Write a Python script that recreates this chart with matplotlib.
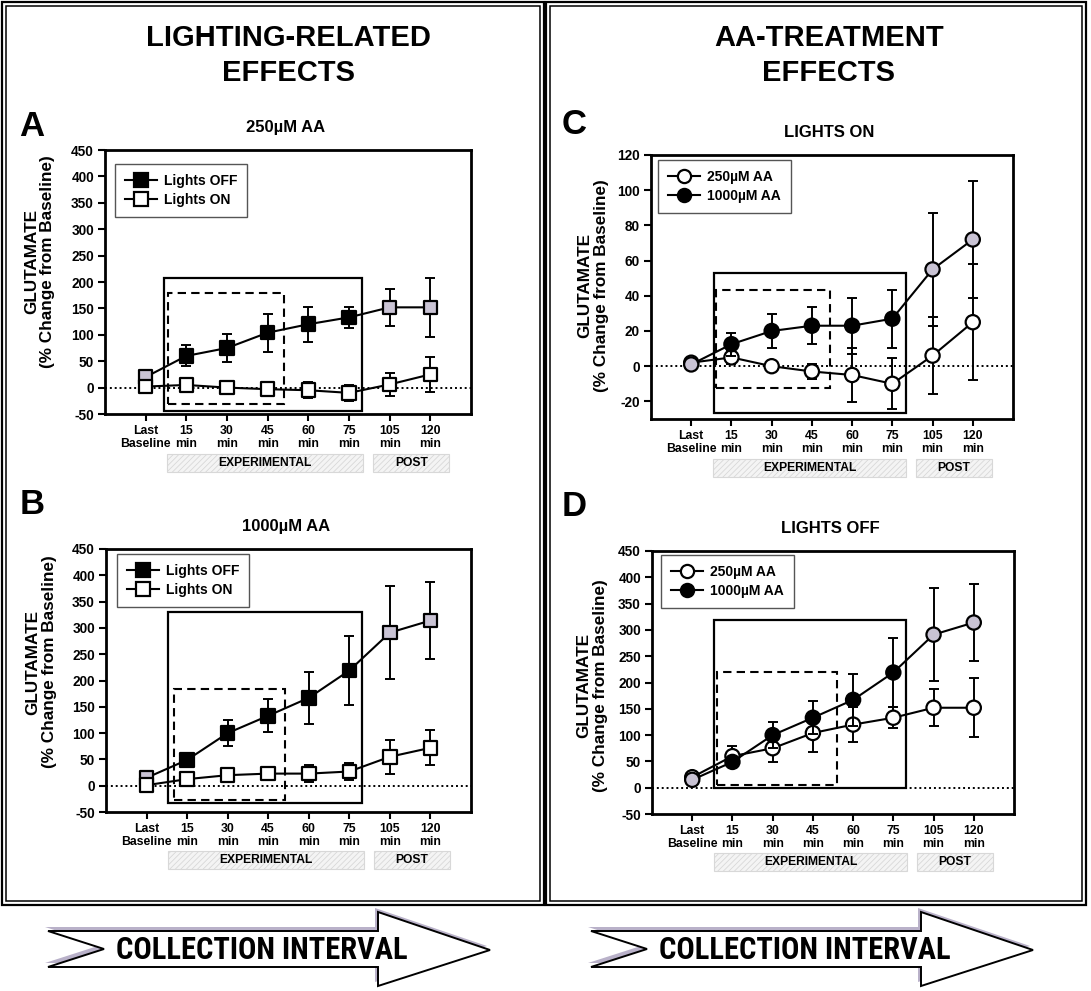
import matplotlib
matplotlib.use("Agg")
import matplotlib.pyplot as plt
from matplotlib.patches import Rectangle, Polygon
from matplotlib.lines import Line2D
from matplotlib import font_manager
import matplotlib.transforms as mtransforms

plt.rcParams['font.family'] = ['Liberation Sans', 'DejaVu Sans']
plt.rcParams['font.weight'] = 'bold'
plt.rcParams['hatch.color'] = '#c8c8c8'
plt.rcParams['hatch.linewidth'] = 0.6

# ---------------- data ----------------
x_labels = ['Last\nBaseline', '15\nmin', '30\nmin', '45\nmin', '60\nmin', '75\nmin', '105\nmin', '120\nmin']

# 250 uM AA, lights OFF
off_250 = [20, 60, 75, 104, 120, 133, 152, 152]
off_250_err = [3, 20, 27, 36, 33, 20, 35, 56]
# 250 uM AA, lights ON
on_250 = [2, 5, 0, -3, -5, -10, 6, 25]
on_250_err = [2, 4, 3, 4.5, 15.5, 14.5, 22, 33]
# 1000 uM AA, lights OFF
off_1000 = [15, 49, 100, 133, 167, 219, 291, 314]
off_1000_err = [3, 8, 25, 31, 49, 66, 88, 74]
# 1000 uM AA, lights ON
on_1000 = [1, 12.5, 20, 23, 23, 27, 55, 72]
on_1000_err = [1, 6.5, 9.5, 10.5, 15.8, 16.5, 32, 33]

gray_idx = [0, 6, 7]

titles = ['250\u00b5M AA', '1000\u00b5M AA', 'LIGHTS ON', 'LIGHTS OFF']
letters = ['A', 'B', 'C', 'D']
headlines = [('LIGHTING-RELATED', 'EFFECTS'), ('AA-TREATMENT', 'EFFECTS')]
band_labels = ['EXPERIMENTAL', 'POST']
arrow_text = 'COLLECTION INTERVAL'

GRAY = '#c9c3d4'

# ---------------- pick a condensed bold font if one exists ----------------
def find_condensed():
    cands = []
    for f in font_manager.fontManager.ttflist:
        nm = f.name.lower()
        path = f.fname.lower()
        cond = ('narrow' in nm or 'condensed' in nm or 'narrow' in path or 'condensed' in path
                or f.stretch in ('condensed', 'semi-condensed', 'extra-condensed', 'ultra-condensed'))
        if not cond:
            continue
        w = f.weight
        try:
            w = int(w)
        except Exception:
            w = 700 if 'bold' in str(w) else 400
        if w < 600 and 'bold' not in path:
            continue
        if 'italic' in path or 'oblique' in path or f.style != 'normal':
            continue
        rank = 5
        if 'liberation' in nm or 'liberation' in path:
            rank = 0
        elif 'roboto' in nm or 'roboto' in path:
            rank = 1
        elif 'noto' in nm or 'noto' in path:
            rank = 2
        elif 'open' in nm:
            rank = 3
        elif 'dejavu' in nm or 'dejavu' in path:
            rank = 4
        if 'mono' in path or 'serif' in path.replace('sans', ''):
            rank += 10
        cands.append((rank, f.fname))
    cands.sort()
    return cands[0][1] if cands else None

narrow_path = find_condensed()

# ---------------- figure ----------------
W, H = 1091, 991
fig = plt.figure(figsize=(W / 100, H / 100), dpi=100)

bg = fig.add_axes([0, 0, 1, 1], zorder=-5)
bg.set_xlim(0, W)
bg.set_ylim(H, 0)
bg.axis('off')

# panel frames (double lines)
for x0, x1 in [(2, 544), (546, 1086)]:
    bg.add_patch(Rectangle((x0, 2), x1 - x0, 903, fill=False, lw=1.6, ec='black'))
    bg.add_patch(Rectangle((x0 + 4, 6), x1 - x0 - 8, 895, fill=False, lw=1.1, ec='black'))

# headlines
for (l1, l2), cx in zip(headlines, [288, 829]):
    bg.text(cx, 38, l1, ha='center', va='center', fontsize=21, fontweight='bold')
    bg.text(cx, 73, l2, ha='center', va='center', fontsize=21, fontweight='bold')

# arrows
for dx in [0, 543]:
    pts = [(48, 931), (378, 931), (378, 912), (490, 950), (378, 986), (378, 967), (48, 967), (104, 949)]
    pts = [(px + dx, py) for px, py in pts]
    sh = [(px - 3, py - 4) for px, py in pts]
    bg.add_patch(Polygon(sh, closed=True, fc='#b9b1c9', ec='none'))
    bg.add_patch(Polygon(pts, closed=True, fc='white', ec='black', lw=1.4))
    if narrow_path:
        fp = font_manager.FontProperties(fname=narrow_path, size=22)
        bg.text(262 + dx, 950, arrow_text, ha='center', va='center', fontproperties=fp)
    else:
        bg.text(262 + dx, 950, arrow_text, ha='center', va='center', fontsize=18,
                fontweight='bold')

# ---------------- panels ----------------
def px_axes(l, t, r, b):
    return fig.add_axes([l / W, 1 - b / H, (r - l) / W, (b - t) / H])

panels = [
    dict(box=(105, 150, 471, 414), ylim=(-50, 450), ticks=list(range(-50, 451, 50)),
         series=[(off_250, off_250_err, 's', 'black', True, 'Lights OFF'),
                 (on_250, on_250_err, 's', 'white', False, 'Lights ON')],
         leg=(0.027, 0.947), ylab=(-0.178, 0.576),
         solid=(0.44, 5.33, -44, 208), dashed=(0.56, 3.39, -31, 179)),
    dict(box=(106, 549, 471, 812), ylim=(-50, 450), ticks=list(range(-50, 451, 50)),
         series=[(off_1000, off_1000_err, 's', 'black', True, 'Lights OFF'),
                 (on_1000, on_1000_err, 's', 'white', False, 'Lights ON')],
         leg=(0.03, 0.981), ylab=(-0.178, 0.570),
         solid=(0.54, 5.32, -33, 330), dashed=(0.67, 3.41, -27, 184)),
    dict(box=(651, 155, 1013, 419), ylim=(-30, 120), ticks=list(range(-20, 121, 20)),
         series=[(on_250, on_250_err, 'o', 'white', False, '250\u00b5M AA'),
                 (on_1000, on_1000_err, 'o', 'black', True, '1000\u00b5M AA')],
         leg=(0.019, 0.981), ylab=(-0.16, 0.504),
         solid=(0.56, 5.33, -26.7, 52.8), dashed=(0.62, 3.44, -12.4, 43.2)),
    dict(box=(652, 551, 1014, 814), ylim=(-50, 450), ticks=list(range(-50, 451, 50)),
         series=[(off_250, off_250_err, 'o', 'white', False, '250\u00b5M AA'),
                 (off_1000, off_1000_err, 'o', 'black', True, '1000\u00b5M AA')],
         leg=(0.025, 0.985), ylab=(-0.166, 0.49),
         solid=(0.54, 5.32, 0, 318), dashed=(0.61, 3.59, 5.7, 220)),
]

xs = list(range(len(x_labels)))

for i, p in enumerate(panels):
    ax = px_axes(*p['box'])
    ax.set_xlim(-1, 8)
    ax.set_ylim(*p['ylim'])
    ax.set_yticks(p['ticks'])
    ax.set_xticks(xs)
    ax.set_xticklabels(x_labels, fontsize=8.8, fontweight='bold', linespacing=1.15)
    ax.set_yticklabels([str(t) for t in p['ticks']], fontsize=9.8, fontweight='bold')
    ax.tick_params(axis='both', direction='out', length=5, width=1.5, pad=3)
    for s in ax.spines.values():
        s.set_linewidth(2.0)
    ax.axhline(0, color='black', lw=1.4, ls=(0, (1, 1.5)), zorder=1)

    x0, x1, y0, y1 = p['solid']
    ax.add_patch(Rectangle((x0, y0), x1 - x0, y1 - y0, fill=False, lw=1.6, ec='black',
                           zorder=2, clip_on=False))
    x0, x1, y0, y1 = p['dashed']
    ax.add_patch(Rectangle((x0, y0), x1 - x0, y1 - y0, fill=False, lw=1.5, ec='black',
                           ls=(0, (4, 2.5)), zorder=2, clip_on=False))

    handles = []
    for k, (vals, errs, mk, fc, has_gray, lab) in enumerate(p['series']):
        z = 3 + 3 * k
        ax.errorbar(xs, vals, yerr=errs, fmt='none', ecolor='black', elinewidth=1.4,
                    capsize=3.8, capthick=1.4, zorder=z)
        ax.plot(xs, vals, '-', color='black', lw=1.5, zorder=z + 1)
        fcs = [GRAY if (has_gray and j in gray_idx) else fc for j in xs]
        ax.scatter(xs, vals, s=95 if mk == 's' else 105, marker=mk, c=fcs,
                   edgecolors='black', linewidths=1.6, zorder=z + 2)
        handles.append(Line2D([], [], color='black', lw=1.5, marker=mk, ms=9.5,
                              mfc=fc, mec='black', mew=1.6, label=lab))
    leg = ax.legend(handles=handles, loc='upper left', bbox_to_anchor=p['leg'],
                    borderaxespad=0, fancybox=False, framealpha=1, edgecolor='#555555',
                    prop={'size': 10, 'weight': 'bold'}, handlelength=2.3,
                    handletextpad=0.55, labelspacing=0.4, borderpad=0.7)
    leg.get_frame().set_linewidth(1.0)

    ax.text(p['ylab'][0], p['ylab'][1], 'GLUTAMATE\n(% Change from Baseline)',
            transform=ax.transAxes, rotation=90, ha='center', va='center',
            fontsize=12.3, fontweight='bold', linespacing=1.1)
    ax.text(0.492, 1.087, titles[i], transform=ax.transAxes, ha='center', va='center',
            fontsize=12, fontweight='bold')

    trans = mtransforms.blended_transform_factory(ax.transData, ax.transAxes)
    for (bx0, bx1), lab in zip([(0.53, 5.35), (5.6, 7.47)], band_labels):
        ax.add_patch(Rectangle((bx0, -0.218), bx1 - bx0, 0.068, transform=trans,
                               fc='#f4f4f4', ec='#d8d8d8', lw=0.8, hatch='//////',
                               clip_on=False, zorder=1))
        ax.text((bx0 + bx1) / 2, -0.184, lab, transform=trans, ha='center', va='center',
                fontsize=8.7, fontweight='bold', zorder=2)

# panel letters
for lab, (cx, cy) in zip(letters, [(32, 126), (32, 504), (574, 125), (574, 506)]):
    bg.text(cx, cy, lab, ha='center', va='center', fontsize=25, fontweight='bold')

fig.savefig('out.png', dpi=100)
